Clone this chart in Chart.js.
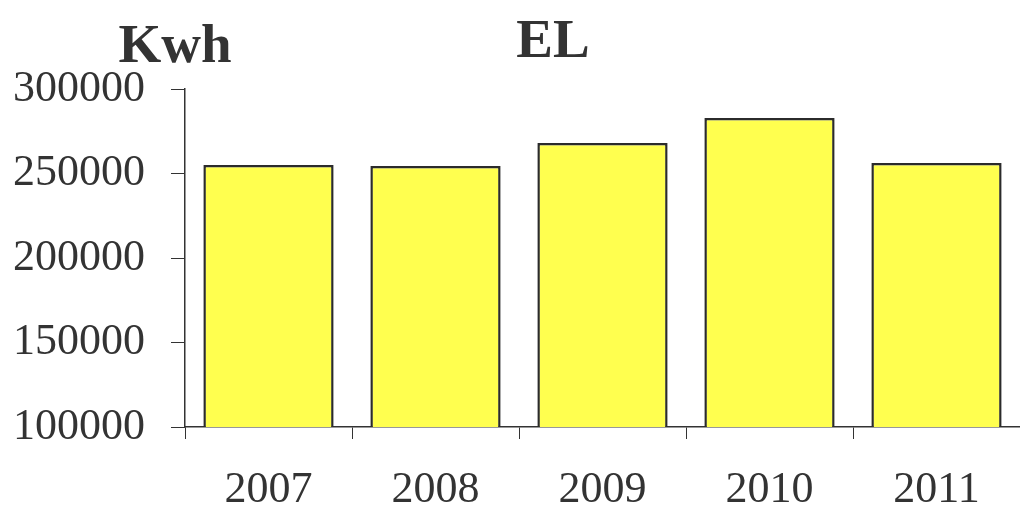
<!DOCTYPE html>
<html>
<head>
<meta charset="utf-8">
<script src="https://cdn.jsdelivr.net/npm/chart.js@4"></script>
<style>
  html, body { margin:0; padding:0; background:#fff; }
  #wrap { width:1020px; height:511px; }
</style>
</head>
<body>
<div id="wrap"><canvas id="el-chart" width="1020" height="511"></canvas></div>
<script>
// ── DATOS ─────────────────────────────────────────────
var years   = ['2007', '2008', '2009', '2010', '2011'];
var kwh     = [255000, 254500, 268000, 282800, 256200];
var yTicks  = [100000, 150000, 200000, 250000, 300000];

var INK   = '#333333';
var SERIF = "'Liberation Serif','Times New Roman',serif";

// Textos "Kwh" y "EL" sobre el gráfico
var headerPlugin = {
  id: 'header',
  afterDraw: function (chart) {
    var ctx = chart.ctx;
    ctx.save();
    ctx.fillStyle = INK;
    ctx.font = 'bold 55px ' + SERIF;
    ctx.textAlign = 'center';
    ctx.textBaseline = 'alphabetic';
    ctx.fillText('Kwh', 175, 62);
    ctx.fillText('EL', 553, 57);
    ctx.restore();
  }
};

new Chart(document.getElementById('el-chart'), {
  type: 'bar',
  data: {
    labels: years,
    datasets: [{
      label: 'EL',
      data: kwh,
      backgroundColor: '#FFFF4F',
      borderColor: '#2b2b2b',
      borderWidth: 2.5,
      borderSkipped: false,
      barPercentage: 0.78,
      categoryPercentage: 1.0
    }]
  },
  options: {
    responsive: false,
    animation: false,
    layout: { padding: { top: 89, right: 0, left: 8, bottom: 0 } },
    plugins: {
      legend: { display: false },
      title: { display: false },
      tooltip: { enabled: false }
    },
    scales: {
      x: {
        afterFit: function (s) { s.height = 84; },
        grid: { drawOnChartArea: false, drawTicks: true, tickLength: 12, color: INK, offset: true },
        border: { display: true, color: INK, width: 1.5 },
        ticks: { color: INK, font: { family: SERIF, size: 44 }, padding: 25 }
      },
      y: {
        min: yTicks[0],
        max: yTicks[yTicks.length - 1],
        afterFit: function (s) { s.width = 177; },
        afterBuildTicks: function (s) {
          s.ticks = yTicks.map(function (v) { return { value: v }; });
        },
        grid: { drawOnChartArea: false, drawTicks: true, tickLength: 14, color: INK },
        border: { display: true, color: INK, width: 1.5 },
        ticks: {
          color: INK,
          font: { family: SERIF, size: 44 },
          padding: 26,
          callback: function (v) { return String(v); }
        }
      }
    }
  },
  plugins: [headerPlugin]
});
</script>
</body>
</html>
